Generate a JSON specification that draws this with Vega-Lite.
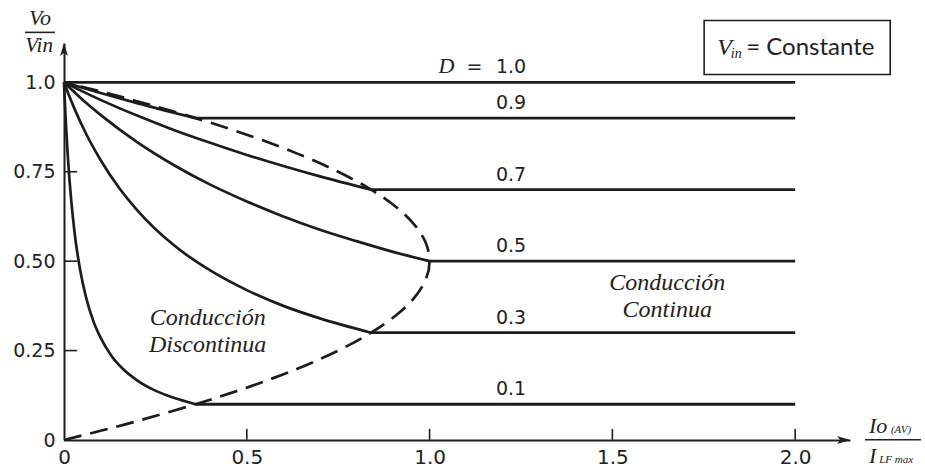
{
  "$schema": "https://vega.github.io/schema/vega-lite/v6.json",
  "width": 786,
  "height": 397,
  "autosize": "none",
  "padding": {"left": 64, "top": 43, "right": 75, "bottom": 30},
  "background": "white",
  "config": {"view": {"stroke": null}},
  "datasets": {
    "curves": [
      {"D": "0.1", "x": 0, "y": 1.0}, {"D": "0.1", "x": 0.002, "y": 0.952}, {"D": "0.1", "x": 0.005, "y": 0.889},
      {"D": "0.1", "x": 0.01, "y": 0.8}, {"D": "0.1", "x": 0.015, "y": 0.727}, {"D": "0.1", "x": 0.02, "y": 0.667},
      {"D": "0.1", "x": 0.03, "y": 0.571}, {"D": "0.1", "x": 0.045, "y": 0.471}, {"D": "0.1", "x": 0.06, "y": 0.4},
      {"D": "0.1", "x": 0.08, "y": 0.333}, {"D": "0.1", "x": 0.1, "y": 0.286}, {"D": "0.1", "x": 0.13, "y": 0.235},
      {"D": "0.1", "x": 0.16, "y": 0.2}, {"D": "0.1", "x": 0.2, "y": 0.167}, {"D": "0.1", "x": 0.25, "y": 0.138},
      {"D": "0.1", "x": 0.3, "y": 0.118}, {"D": "0.1", "x": 0.36, "y": 0.1},
      {"D": "0.3", "x": 0, "y": 1.0}, {"D": "0.3", "x": 0.01, "y": 0.973}, {"D": "0.3", "x": 0.03, "y": 0.923},
      {"D": "0.3", "x": 0.06, "y": 0.857}, {"D": "0.3", "x": 0.1, "y": 0.783}, {"D": "0.3", "x": 0.15, "y": 0.706},
      {"D": "0.3", "x": 0.2, "y": 0.643}, {"D": "0.3", "x": 0.3, "y": 0.545}, {"D": "0.3", "x": 0.4, "y": 0.474},
      {"D": "0.3", "x": 0.5, "y": 0.419}, {"D": "0.3", "x": 0.6, "y": 0.375}, {"D": "0.3", "x": 0.7, "y": 0.34},
      {"D": "0.3", "x": 0.84, "y": 0.3},
      {"D": "0.5", "x": 0, "y": 1.0}, {"D": "0.5", "x": 0.05, "y": 0.952}, {"D": "0.5", "x": 0.1, "y": 0.909},
      {"D": "0.5", "x": 0.2, "y": 0.833}, {"D": "0.5", "x": 0.3, "y": 0.769}, {"D": "0.5", "x": 0.4, "y": 0.714},
      {"D": "0.5", "x": 0.5, "y": 0.667}, {"D": "0.5", "x": 0.6, "y": 0.625}, {"D": "0.5", "x": 0.7, "y": 0.588},
      {"D": "0.5", "x": 0.8, "y": 0.556}, {"D": "0.5", "x": 0.9, "y": 0.526}, {"D": "0.5", "x": 1.0, "y": 0.5},
      {"D": "0.7", "x": 0, "y": 1.0}, {"D": "0.7", "x": 0.1, "y": 0.951}, {"D": "0.7", "x": 0.2, "y": 0.907},
      {"D": "0.7", "x": 0.3, "y": 0.867}, {"D": "0.7", "x": 0.4, "y": 0.831}, {"D": "0.7", "x": 0.5, "y": 0.797},
      {"D": "0.7", "x": 0.6, "y": 0.766}, {"D": "0.7", "x": 0.7, "y": 0.737}, {"D": "0.7", "x": 0.84, "y": 0.7},
      {"D": "0.9", "x": 0, "y": 1.0}, {"D": "0.9", "x": 0.1, "y": 0.97}, {"D": "0.9", "x": 0.2, "y": 0.942},
      {"D": "0.9", "x": 0.3, "y": 0.915}, {"D": "0.9", "x": 0.36, "y": 0.9}
    ],
    "levels": [
      {"D": "1.0", "x": 0, "y": 1.0, "xe": 2.0},
      {"D": "0.9", "x": 0.36, "y": 0.9, "xe": 2.0},
      {"D": "0.7", "x": 0.84, "y": 0.7, "xe": 2.0},
      {"D": "0.5", "x": 1.0, "y": 0.5, "xe": 2.0},
      {"D": "0.3", "x": 0.84, "y": 0.3, "xe": 2.0},
      {"D": "0.1", "x": 0.36, "y": 0.1, "xe": 2.0}
    ],
    "boundary": [
      {"x": 0, "y": 0}, {"x": 0.0975, "y": 0.025}, {"x": 0.19, "y": 0.05}, {"x": 0.36, "y": 0.1},
      {"x": 0.51, "y": 0.15}, {"x": 0.64, "y": 0.2}, {"x": 0.75, "y": 0.25}, {"x": 0.84, "y": 0.3},
      {"x": 0.91, "y": 0.35}, {"x": 0.96, "y": 0.4}, {"x": 0.99, "y": 0.45}, {"x": 1.0, "y": 0.5},
      {"x": 0.99, "y": 0.55}, {"x": 0.96, "y": 0.6}, {"x": 0.91, "y": 0.65}, {"x": 0.84, "y": 0.7},
      {"x": 0.75, "y": 0.75}, {"x": 0.64, "y": 0.8}, {"x": 0.51, "y": 0.85}, {"x": 0.36, "y": 0.9},
      {"x": 0.19, "y": 0.95}, {"x": 0.0975, "y": 0.975}, {"x": 0, "y": 1.0}
    ],
    "one": [{}]
  },
  "layer": [
    {
      "data": {"name": "curves"},
      "mark": {"type": "line", "interpolate": "monotone", "color": "#1c1c1c", "strokeWidth": 2.7},
      "encoding": {
        "x": {
          "field": "x",
          "type": "quantitative",
          "scale": {"domain": [0, 2.15], "nice": false, "zero": false},
          "axis": {
            "values": [0, 0.5, 1, 1.5, 2],
            "labelExpr": "datum.value == 0 ? '0' : format(datum.value, '.1f')",
            "title": null,
            "grid": false,
            "ticks": false,
            "domainColor": "#1e1e1e",
            "domainWidth": 2,
            "labelFont": "DejaVu Sans",
            "labelFontSize": 20,
            "labelColor": "#222222",
            "labelPadding": 7,
            "labelFlush": false,
            "labelOverlap": false
          }
        },
        "y": {
          "field": "y",
          "type": "quantitative",
          "scale": {"domain": [0, 1.11], "nice": false, "zero": false},
          "axis": {
            "values": [0, 0.25, 0.5, 0.75, 1],
            "labelExpr": "datum.value == 0 ? '0' : datum.value == 1 ? '1.0' : format(datum.value, '.2f')",
            "title": null,
            "grid": false,
            "ticks": false,
            "domainColor": "#1e1e1e",
            "domainWidth": 2,
            "labelFont": "DejaVu Sans",
            "labelFontSize": 19,
            "labelColor": "#222222",
            "labelPadding": 9,
            "labelFlush": false,
            "labelOverlap": false
          }
        },
        "detail": {"field": "D", "type": "nominal"}
      }
    },
    {
      "data": {"values": [{"x": 1.751, "x2": 2.26, "y": 1.022, "y2": 1.173}]},
      "mark": {"type": "rect", "fill": "white", "stroke": "#1e1e1e", "strokeWidth": 1.6},
      "encoding": {
        "x": {"field": "x", "type": "quantitative", "title": null},
        "x2": {"field": "x2"},
        "y": {"field": "y", "type": "quantitative", "title": null},
        "y2": {"field": "y2"}
      }
    },
    {
      "data": {"name": "one"},
      "mark": {"type": "rule", "color": "#1e1e1e", "strokeWidth": 1.6},
      "encoding": {"x": {"datum": 0.5}, "y": {"datum": 0.0005}, "y2": {"datum": 0.031}}
    },
    {
      "data": {"name": "one"},
      "mark": {"type": "rule", "color": "#1e1e1e", "strokeWidth": 1.6},
      "encoding": {"x": {"datum": 1.0}, "y": {"datum": 0.0005}, "y2": {"datum": 0.031}}
    },
    {
      "data": {"name": "one"},
      "mark": {"type": "rule", "color": "#1e1e1e", "strokeWidth": 1.6},
      "encoding": {"x": {"datum": 1.5}, "y": {"datum": 0.0005}, "y2": {"datum": 0.031}}
    },
    {
      "data": {"name": "one"},
      "mark": {"type": "rule", "color": "#1e1e1e", "strokeWidth": 1.6},
      "encoding": {"x": {"datum": 2.0}, "y": {"datum": 0.0005}, "y2": {"datum": 0.031}}
    },
    {
      "data": {"name": "one"},
      "mark": {"type": "rule", "color": "#1e1e1e", "strokeWidth": 1.6},
      "encoding": {"y": {"datum": 0.25}, "x": {"datum": 0.0005}, "x2": {"datum": 0.036}}
    },
    {
      "data": {"name": "one"},
      "mark": {"type": "rule", "color": "#1e1e1e", "strokeWidth": 1.6},
      "encoding": {"y": {"datum": 0.5}, "x": {"datum": 0.0005}, "x2": {"datum": 0.036}}
    },
    {
      "data": {"name": "one"},
      "mark": {"type": "rule", "color": "#1e1e1e", "strokeWidth": 1.6},
      "encoding": {"y": {"datum": 0.75}, "x": {"datum": 0.0005}, "x2": {"datum": 0.036}}
    },
    {
      "data": {"name": "levels"},
      "mark": {"type": "rule", "color": "#1c1c1c", "strokeWidth": 2.8},
      "encoding": {
        "x": {"field": "x", "type": "quantitative", "title": null},
        "x2": {"field": "xe"},
        "y": {"field": "y", "type": "quantitative", "title": null}
      }
    },
    {
      "data": {"name": "boundary"},
      "mark": {"type": "line", "interpolate": "cardinal", "color": "#1c1c1c", "strokeWidth": 2.7, "strokeDash": [18, 9]},
      "encoding": {
        "x": {"field": "x", "type": "quantitative", "title": null},
        "y": {"field": "y", "type": "quantitative", "title": null},
        "order": {"field": "y", "type": "quantitative"}
      }
    },
    {
      "data": {"name": "levels"},
      "mark": {"type": "text", "font": "DejaVu Sans", "fontSize": 19, "color": "#222222", "align": "center", "baseline": "alphabetic", "dy": -9},
      "encoding": {
        "x": {"datum": 1.2227},
        "y": {"field": "y", "type": "quantitative", "title": null},
        "text": {"field": "D", "type": "nominal"}
      }
    },
    {
      "data": {"name": "one"},
      "mark": {"type": "text", "text": "D", "font": "Liberation Serif", "fontStyle": "italic", "fontSize": 22, "color": "#222222", "align": "center", "baseline": "alphabetic", "dy": -9},
      "encoding": {"x": {"datum": 1.046}, "y": {"datum": 1.0}}
    },
    {
      "data": {"name": "one"},
      "mark": {"type": "text", "text": "=", "font": "DejaVu Sans", "fontSize": 19, "color": "#222222", "align": "center", "baseline": "alphabetic", "dy": -9},
      "encoding": {"x": {"datum": 1.123}, "y": {"datum": 1.0}}
    },
    {
      "data": {"name": "one"},
      "mark": {"type": "text", "text": ["Conducción", "Discontinua"], "lineHeight": 27, "font": "Liberation Serif", "fontStyle": "italic", "fontSize": 24, "color": "#222222", "align": "center", "baseline": "alphabetic"},
      "encoding": {"x": {"datum": 0.393}, "y": {"datum": 0.321}}
    },
    {
      "data": {"name": "one"},
      "mark": {"type": "text", "text": ["Conducción", "Continua"], "lineHeight": 27, "font": "Liberation Serif", "fontStyle": "italic", "fontSize": 24, "color": "#222222", "align": "center", "baseline": "alphabetic"},
      "encoding": {"x": {"datum": 1.65}, "y": {"datum": 0.419}}
    },
    {
      "data": {"name": "one"},
      "mark": {"type": "text", "text": "V", "font": "Liberation Serif", "fontStyle": "italic", "fontSize": 24, "color": "#222222", "align": "left", "baseline": "alphabetic"},
      "encoding": {"x": {"datum": 1.787}, "y": {"datum": 1.0754}}
    },
    {
      "data": {"name": "one"},
      "mark": {"type": "text", "text": "in", "font": "Liberation Serif", "fontStyle": "italic", "fontSize": 14, "color": "#222222", "align": "left", "baseline": "alphabetic"},
      "encoding": {"x": {"datum": 1.824}, "y": {"datum": 1.067}}
    },
    {
      "data": {"name": "one"},
      "mark": {"type": "text", "text": "= Constante", "font": "Lato", "fontSize": 24, "color": "#222222", "align": "left", "baseline": "alphabetic"},
      "encoding": {"x": {"datum": 1.866}, "y": {"datum": 1.0754}}
    },
    {
      "data": {"name": "one"},
      "mark": {"type": "point", "shape": "M0,0L-2,-0.6L-1.5,0L-2,0.6Z", "size": 169, "filled": true, "color": "#1e1e1e", "opacity": 1},
      "encoding": {"x": {"datum": 2.15}, "y": {"datum": 0}}
    },
    {
      "data": {"name": "one"},
      "mark": {"type": "point", "shape": "M0,0L-0.6,2L0,1.5L0.6,2Z", "size": 169, "filled": true, "color": "#1e1e1e", "opacity": 1},
      "encoding": {"x": {"datum": 0}, "y": {"datum": 1.11}}
    },
    {
      "data": {"name": "one"},
      "mark": {"type": "text", "text": "Vo", "font": "Liberation Serif", "fontStyle": "italic", "fontSize": 22, "color": "#222222", "align": "center", "baseline": "alphabetic"},
      "encoding": {"x": {"datum": -0.0656}, "y": {"datum": 1.159}}
    },
    {
      "data": {"name": "one"},
      "mark": {"type": "rule", "color": "#222222", "strokeWidth": 1.6},
      "encoding": {"x": {"datum": -0.1066}, "x2": {"datum": -0.0246}, "y": {"datum": 1.1397}}
    },
    {
      "data": {"name": "one"},
      "mark": {"type": "text", "text": "Vin", "font": "Liberation Serif", "fontStyle": "italic", "fontSize": 21, "color": "#222222", "align": "center", "baseline": "alphabetic"},
      "encoding": {"x": {"datum": -0.068}, "y": {"datum": 1.0838}}
    },
    {
      "data": {"name": "one"},
      "mark": {"type": "text", "text": "Io", "font": "Liberation Serif", "fontStyle": "italic", "fontSize": 22, "color": "#222222", "align": "left", "baseline": "alphabetic"},
      "encoding": {"x": {"datum": 2.202}, "y": {"datum": 0.0196}}
    },
    {
      "data": {"name": "one"},
      "mark": {"type": "text", "text": "(AV)", "font": "Liberation Serif", "fontStyle": "italic", "fontSize": 11, "color": "#222222", "align": "left", "baseline": "alphabetic"},
      "encoding": {"x": {"datum": 2.262}, "y": {"datum": 0.0196}}
    },
    {
      "data": {"name": "one"},
      "mark": {"type": "rule", "color": "#222222", "strokeWidth": 1.6},
      "encoding": {"x": {"datum": 2.191}, "x2": {"datum": 2.344}, "y": {"datum": 0.0005}}
    },
    {
      "data": {"name": "one"},
      "mark": {"type": "text", "text": "I", "font": "Liberation Serif", "fontStyle": "italic", "fontSize": 22, "color": "#222222", "align": "left", "baseline": "alphabetic"},
      "encoding": {"x": {"datum": 2.202}, "y": {"datum": -0.0642}}
    },
    {
      "data": {"name": "one"},
      "mark": {"type": "text", "text": "LF max", "font": "Liberation Serif", "fontStyle": "italic", "fontSize": 11, "color": "#222222", "align": "left", "baseline": "alphabetic"},
      "encoding": {"x": {"datum": 2.23}, "y": {"datum": -0.0642}}
    }
  ]
}
